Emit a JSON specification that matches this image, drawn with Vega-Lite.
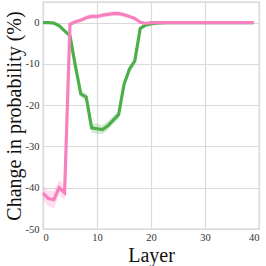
{
  "$schema": "https://vega.github.io/schema/vega-lite/v6.json",
  "width": 216,
  "height": 227,
  "autosize": "none",
  "padding": {"left": 43, "top": 2, "right": 7, "bottom": 37},
  "config": {
    "font": "Liberation Serif",
    "view": {"stroke": "#d0d0d0", "strokeWidth": 1.3},
    "axis": {
      "domain": false,
      "ticks": false,
      "gridColor": "#dadada",
      "gridWidth": 1.2,
      "labelFont": "Liberation Serif",
      "labelFontSize": 10.5,
      "labelColor": "#333333",
      "titleFont": "Liberation Serif",
      "titleFontWeight": "normal",
      "titleColor": "#111111"
    }
  },
  "data": {
    "values": [
      {"l":0,"s":"A","m":0,"lo":-0.2,"hi":0.2},
      {"l":1,"s":"A","m":0,"lo":-0.2,"hi":0.2},
      {"l":2,"s":"A","m":-0.1,"lo":-0.3,"hi":0.1},
      {"l":3,"s":"A","m":-0.8,"lo":-1.1,"hi":-0.5},
      {"l":4,"s":"A","m":-2.0,"lo":-2.4,"hi":-1.6},
      {"l":5,"s":"A","m":-3.2,"lo":-3.8,"hi":-2.6},
      {"l":6,"s":"A","m":-10.5,"lo":-11.3,"hi":-9.7},
      {"l":7,"s":"A","m":-17.3,"lo":-18.1,"hi":-16.5},
      {"l":8,"s":"A","m":-18.0,"lo":-18.9,"hi":-17.1},
      {"l":9,"s":"A","m":-25.5,"lo":-26.6,"hi":-24.4},
      {"l":10,"s":"A","m":-25.7,"lo":-26.9,"hi":-24.5},
      {"l":11,"s":"A","m":-25.9,"lo":-27.0,"hi":-24.8},
      {"l":12,"s":"A","m":-25.0,"lo":-26.1,"hi":-23.9},
      {"l":13,"s":"A","m":-23.6,"lo":-24.6,"hi":-22.6},
      {"l":14,"s":"A","m":-22.3,"lo":-23.2,"hi":-21.4},
      {"l":15,"s":"A","m":-15.0,"lo":-15.9,"hi":-14.1},
      {"l":16,"s":"A","m":-11.3,"lo":-12.1,"hi":-10.5},
      {"l":17,"s":"A","m":-9.3,"lo":-10.1,"hi":-8.5},
      {"l":18,"s":"A","m":-1.4,"lo":-1.8,"hi":-1.0},
      {"l":19,"s":"A","m":-0.6,"lo":-0.9,"hi":-0.3},
      {"l":20,"s":"A","m":-0.3,"lo":-0.5,"hi":-0.1},
      {"l":21,"s":"A","m":-0.15,"lo":-0.3,"hi":0},
      {"l":22,"s":"A","m":-0.05,"lo":-0.15,"hi":0.05},
      {"l":23,"s":"A","m":0,"lo":-0.05,"hi":0.05},
      {"l":24,"s":"A","m":0,"lo":0,"hi":0},
      {"l":25,"s":"A","m":0,"lo":0,"hi":0},
      {"l":26,"s":"A","m":0,"lo":0,"hi":0},
      {"l":27,"s":"A","m":0,"lo":0,"hi":0},
      {"l":28,"s":"A","m":0,"lo":0,"hi":0},
      {"l":29,"s":"A","m":0,"lo":0,"hi":0},
      {"l":30,"s":"A","m":0,"lo":0,"hi":0},
      {"l":31,"s":"A","m":0,"lo":0,"hi":0},
      {"l":32,"s":"A","m":0,"lo":0,"hi":0},
      {"l":33,"s":"A","m":0,"lo":0,"hi":0},
      {"l":34,"s":"A","m":0,"lo":0,"hi":0},
      {"l":35,"s":"A","m":0,"lo":0,"hi":0},
      {"l":36,"s":"A","m":0,"lo":0,"hi":0},
      {"l":37,"s":"A","m":0,"lo":0,"hi":0},
      {"l":38,"s":"A","m":0,"lo":0,"hi":0},
      {"l":39,"s":"A","m":0,"lo":0,"hi":0},
      {"l":0,"s":"B","m":-41.3,"lo":-43.0,"hi":-39.6},
      {"l":1,"s":"B","m":-42.6,"lo":-44.5,"hi":-40.7},
      {"l":2,"s":"B","m":-42.9,"lo":-45.0,"hi":-40.8},
      {"l":3,"s":"B","m":-40.0,"lo":-41.8,"hi":-38.2},
      {"l":4,"s":"B","m":-41.2,"lo":-43.0,"hi":-39.4},
      {"l":5,"s":"B","m":-0.4,"lo":-0.9,"hi":0.1},
      {"l":6,"s":"B","m":0.2,"lo":-0.3,"hi":0.7},
      {"l":7,"s":"B","m":0.6,"lo":0.1,"hi":1.1},
      {"l":8,"s":"B","m":1.2,"lo":0.6,"hi":1.8},
      {"l":9,"s":"B","m":1.5,"lo":0.9,"hi":2.1},
      {"l":10,"s":"B","m":1.5,"lo":0.9,"hi":2.1},
      {"l":11,"s":"B","m":1.8,"lo":1.2,"hi":2.4},
      {"l":12,"s":"B","m":2.0,"lo":1.4,"hi":2.6},
      {"l":13,"s":"B","m":2.2,"lo":1.6,"hi":2.8},
      {"l":14,"s":"B","m":2.2,"lo":1.6,"hi":2.8},
      {"l":15,"s":"B","m":1.9,"lo":1.3,"hi":2.5},
      {"l":16,"s":"B","m":1.5,"lo":1.0,"hi":2.0},
      {"l":17,"s":"B","m":1.0,"lo":0.6,"hi":1.4},
      {"l":18,"s":"B","m":0.1,"lo":-0.2,"hi":0.4},
      {"l":19,"s":"B","m":-0.2,"lo":-0.4,"hi":0.0},
      {"l":20,"s":"B","m":0,"lo":-0.1,"hi":0.1},
      {"l":21,"s":"B","m":0,"lo":0,"hi":0},
      {"l":22,"s":"B","m":0,"lo":0,"hi":0},
      {"l":23,"s":"B","m":0,"lo":0,"hi":0},
      {"l":24,"s":"B","m":0,"lo":0,"hi":0},
      {"l":25,"s":"B","m":0,"lo":0,"hi":0},
      {"l":26,"s":"B","m":0,"lo":0,"hi":0},
      {"l":27,"s":"B","m":0,"lo":0,"hi":0},
      {"l":28,"s":"B","m":0,"lo":0,"hi":0},
      {"l":29,"s":"B","m":0,"lo":0,"hi":0},
      {"l":30,"s":"B","m":0,"lo":0,"hi":0},
      {"l":31,"s":"B","m":0,"lo":0,"hi":0},
      {"l":32,"s":"B","m":0,"lo":0,"hi":0},
      {"l":33,"s":"B","m":0,"lo":0,"hi":0},
      {"l":34,"s":"B","m":0,"lo":0,"hi":0},
      {"l":35,"s":"B","m":0,"lo":0,"hi":0},
      {"l":36,"s":"B","m":0,"lo":0,"hi":0},
      {"l":37,"s":"B","m":0,"lo":0,"hi":0},
      {"l":38,"s":"B","m":0,"lo":0,"hi":0},
      {"l":39,"s":"B","m":0,"lo":0,"hi":0}
    ]
  },
  "encoding": {
    "x": {
      "field": "l", "type": "quantitative",
      "scale": {"domain": [0, 40], "nice": false},
      "axis": {"values": [0, 10, 20, 30, 40], "title": "Layer", "titleFontSize": 20, "labelPadding": 3, "titlePadding": 3}
    },
    "color": {
      "field": "s", "type": "nominal",
      "scale": {"domain": ["A", "B"], "range": ["#4daf4a", "#f781bf"]},
      "legend": null
    }
  },
  "layer": [
    {
      "mark": {"type": "area", "opacity": 0.25},
      "encoding": {
        "y": {"field": "lo", "type": "quantitative"},
        "y2": {"field": "hi"}
      }
    },
    {
      "mark": {"type": "line", "strokeWidth": 3.2},
      "encoding": {
        "y": {
          "field": "m", "type": "quantitative",
          "scale": {"domain": [-50, 5], "nice": false, "zero": false},
          "axis": {"values": [-50, -40, -30, -20, -10, 0], "labelExpr": "replace(datum.label, '\u2212', '-')", "title": "Change in probability (%)", "titleFontSize": 20, "labelPadding": 4, "titlePadding": 1}
        }
      }
    }
  ]
}
